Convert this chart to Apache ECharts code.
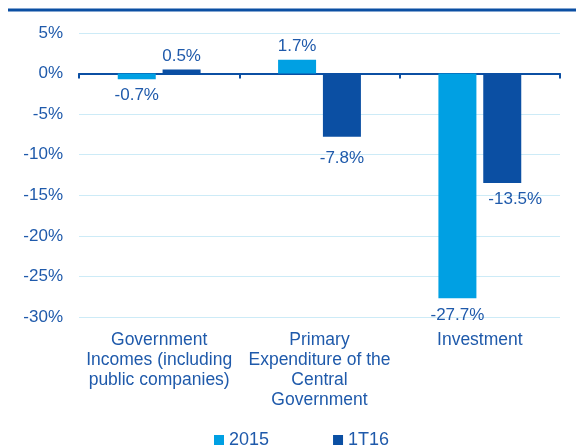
<!DOCTYPE html>
<html>
<head>
<meta charset="utf-8">
<script src="https://cdn.jsdelivr.net/npm/echarts@6/dist/echarts.min.js"></script>
<style>
  html, body { margin: 0; padding: 0; background: #ffffff; }
  #chart { width: 576px; height: 446px; }
</style>
</head>
<body>
<div id="chart"></div>
<script>
// Budget balance components, % change
const categories = [
  'Government\nIncomes (including\npublic companies)',
  'Primary\nExpenditure of the\nCentral\nGovernment',
  'Investment'
];
const seriesNames = ['2015', '1T16'];
const values2015 = [-0.7, 1.7, -27.7];
const values1T16 = [0.5, -7.8, -13.5];
const yTicks = { min: -30, max: 5, interval: 5 };

const LIGHT = '#00a0e3';
const DARK = '#0b4fa3';
const TEXT = '#1f5aab';
const FONT = 'Liberation Sans, Arial, sans-serif';

// hand-placed label nudges: [seriesIndex][categoryIndex] -> {dx, dist}
const labelNudge = [
  [{}, {}, {}],
  [{}, { dist: 13 }, { dx: 13 }]
];

// positive values labelled above the bar, negative ones below it
function withLabels(arr, s) {
  return arr.map((v, i) => {
    const n = labelNudge[s][i] || {};
    return {
      value: v,
      label: {
        position: v >= 0 ? 'top' : 'bottom',
        distance: n.dist != null ? n.dist : (v >= 0 ? 5 : 8),
        offset: [n.dx || 0, 0]
      }
    };
  });
}

const barLabel = {
  show: true,
  color: TEXT,
  fontSize: 17,
  fontFamily: FONT,
  formatter: p => p.value.toFixed(1) + '%'
};

const chart = echarts.init(document.getElementById('chart'), null, { renderer: 'canvas' });

chart.setOption({
  animation: false,
  backgroundColor: '#ffffff',
  textStyle: { fontFamily: FONT },
  graphic: [{
    type: 'line',
    shape: { x1: 8, y1: 10, x2: 576, y2: 10 },
    style: { stroke: DARK, lineWidth: 3 }
  }],
  grid: { left: 79, right: 16, top: 33, bottom: 129, containLabel: false },
  legend: {
    data: seriesNames,
    left: 209,
    top: 426,
    icon: 'rect',
    itemWidth: 10,
    itemHeight: 10,
    itemGap: 64,
    textStyle: { color: TEXT, fontSize: 18, fontFamily: FONT }
  },
  xAxis: [
    {
      type: 'category',
      data: categories,
      axisLine: { onZero: true, lineStyle: { color: DARK, width: 2 } },
      axisTick: { show: true, length: 5, lineStyle: { color: DARK, width: 2 } },
      axisLabel: { show: false },
      splitLine: { show: false }
    },
    {
      type: 'category',
      data: categories,
      position: 'bottom',
      axisLine: { show: false, onZero: false },
      axisTick: { show: false },
      splitLine: { show: false },
      axisLabel: {
        interval: 0,
        margin: 13,
        color: TEXT,
        fontSize: 17.5,
        lineHeight: 20,
        fontFamily: FONT,
        align: 'center'
      }
    }
  ],
  yAxis: {
    type: 'value',
    min: yTicks.min,
    max: yTicks.max,
    interval: yTicks.interval,
    axisLine: { show: false },
    axisTick: { show: false },
    axisLabel: {
      margin: 16,
      color: TEXT,
      fontSize: 17,
      fontFamily: FONT,
      formatter: v => v + '%'
    },
    splitLine: { lineStyle: { color: '#cdebf7', width: 1 } }
  },
  series: [
    {
      name: seriesNames[0],
      type: 'bar',
      xAxisIndex: 0,
      data: withLabels(values2015, 0),
      barWidth: 38,
      barGap: '18%',
      itemStyle: { color: LIGHT },
      label: barLabel
    },
    {
      name: seriesNames[1],
      type: 'bar',
      xAxisIndex: 0,
      data: withLabels(values1T16, 1),
      barWidth: 38,
      itemStyle: { color: DARK },
      label: barLabel
    }
  ]
});
</script>
</body>
</html>
